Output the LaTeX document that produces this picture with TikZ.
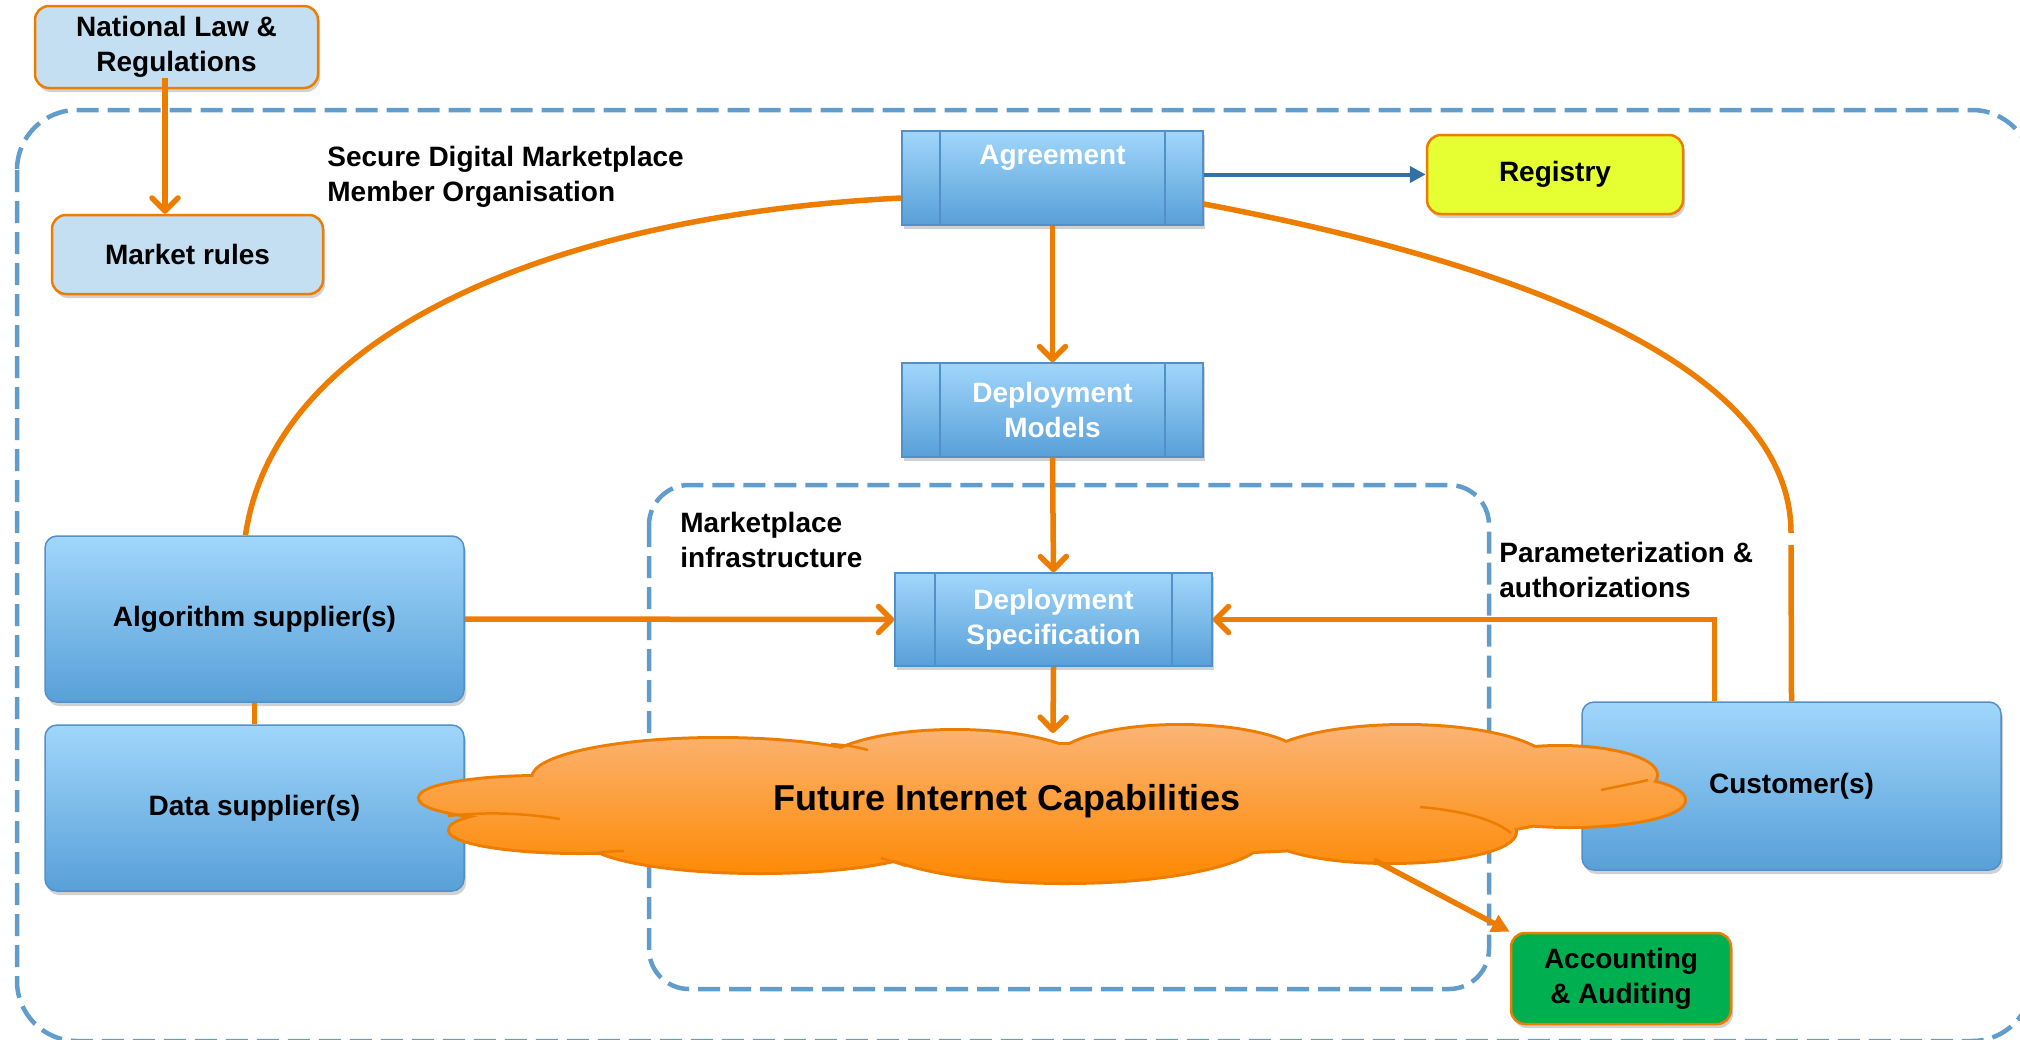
\documentclass[tikz,border=0pt]{standalone}
\usepackage{fontspec}
\setmainfont{Liberation Sans}
\usetikzlibrary{arrows.meta,calc,shadows}

\definecolor{orline}{RGB}{237,125,0}
\definecolor{lawblue}{RGB}{197,223,242}
\definecolor{boxtop}{RGB}{160,214,251}
\definecolor{boxbot}{RGB}{88,160,216}
\definecolor{boxedge}{RGB}{84,144,200}
\definecolor{dashblue}{RGB}{96,156,204}
\definecolor{regblue}{RGB}{52,112,168}
\definecolor{regyellow}{RGB}{230,255,50}
\definecolor{accgreen}{RGB}{0,176,80}
\definecolor{cloudtop}{RGB}{251,180,116}
\definecolor{cloudbot}{RGB}{254,136,0}

\newcommand{\lblfont}{\bfseries\fontsize{28}{35}\selectfont}
\newcommand{\bigfont}{\bfseries\fontsize{36}{43}\selectfont}
\newcommand{\puffs}{540/798/120/21, 580/830/130/22, 718/778/185/39, 955/770/135/39, 1180/762/125/36, 1405/766/145/40, 1560/775/96/28, 1570/800/114/26, 1390/832/125/30, 1065/835/200/47, 760/838/175/34, 1050/800/540/55}

\tikzset{every picture/.style={line width=0.75pt}}
\tikzset{
  shadowed/.style={drop shadow={shadow xshift=2pt,shadow yshift=-4pt,opacity=0.3,fill=black!60}},
  lawbox/.style={rectangle,rounded corners=14pt,draw=orline,line width=2.5pt,fill=lawblue,align=center,font=\lblfont,shadowed},
  procbox/.style={rectangle,draw=boxedge,line width=1.5pt,top color=boxtop,bottom color=boxbot,align=center,font=\lblfont,text=white,shadowed,
    path picture={\draw[boxedge,line width=1.5pt] ([xshift=#1]path picture bounding box.north west) -- ([xshift=#1]path picture bounding box.south west);
      \draw[boxedge,line width=1.5pt] ([xshift=-#1]path picture bounding box.north east) -- ([xshift=-#1]path picture bounding box.south east);}},
  procbox/.default=38pt,
  rolebox/.style={rectangle,rounded corners=12pt,draw=boxedge,line width=1.5pt,top color=boxtop,bottom color=boxbot,align=center,font=\lblfont,minimum width=419pt,shadowed},
  dashbox/.style={draw=dashblue,line width=4.5pt,dash pattern=on 22pt off 9pt},
  oline/.style={draw=orline,line width=5.5pt},
  oarrow/.style={oline,-{Straight Barb[length=13pt,width=26pt,round]}},
  cloudedge/.style={draw=orline,line width=2.5pt}
}

\begin{document}
\begin{tikzpicture}[x=1pt,y=1pt,yscale=-1,xscale=1]
\useasboundingbox (0,0) rectangle (2020,1039);

%Rounded Rect (member organisation)
\draw[dashbox,rounded corners=60pt] (17,110) rectangle (2032,1041);
%Rounded Rect (marketplace infrastructure)
\draw[dashbox,rounded corners=40pt] (649,485) rectangle (1489,989);

%Shape: Rounded Rect
\draw (176.5,47) node[lawbox,minimum width=283pt,minimum height=82pt] (natlaw) {National Law \&\\Regulations};
\draw (187.5,254.5) node[lawbox,minimum width=271pt,minimum height=79pt] (mrules) {Market rules};
\draw (1555,174.5) node[lawbox,fill=regyellow,minimum width=256pt,minimum height=79pt] (reg) {Registry};
\draw (1621,978.5) node[lawbox,fill=accgreen,minimum width=220pt,minimum height=91pt] (acct) {Accounting\\\& Auditing};

%Shape: Predefined Process
\draw (1052.5,178) node[procbox,minimum width=301pt,minimum height=94pt] (agree) {Agreement\\\strut};
\draw (1052.5,410) node[procbox,minimum width=301pt,minimum height=94pt] (depmod) {Deployment\\Models};
\draw (1053.5,619.5) node[procbox=40pt,minimum width=317pt,minimum height=93pt] (depspec) {Deployment\\Specification};

%Shape: Rounded Rect
\draw (254.5,619) node[rolebox,minimum height=166pt] (algo) {Algorithm supplier(s)};
\draw (254.5,808) node[rolebox,minimum height=166pt] (data) {Data supplier(s)};
\draw (1791.5,786) node[rolebox,minimum height=168pt] (cust) {Customer(s)};

%Shape: Cloud
\draw[orline,line width=6pt] foreach \cx/\cy/\rx/\ry in \puffs {(\cx,\cy) ellipse [x radius=\rx,y radius=\ry]};
\shade[top color=cloudtop,bottom color=cloudbot] foreach \cx/\cy/\rx/\ry in \puffs {(\cx,\cy) ellipse [x radius=\rx,y radius=\ry]};
\draw[cloudedge] (448,816) .. controls (490,811) and (530,814) .. (560,819);
\draw[cloudedge] (831,744) .. controls (845,745) and (858,747) .. (868,750);
\draw[cloudedge] (1601,790) .. controls (1620,786) and (1636,783) .. (1648,780);
\draw[cloudedge] (1420,807) .. controls (1465,811) and (1495,820) .. (1511,833);
\draw[cloudedge] (881,858) .. controls (890,861) and (898,863) .. (906,866);
\draw[cloudedge] (595,853) .. controls (605,852) and (615,851) .. (624,851);
\coordinate (cloudtop) at (1053,733);
\coordinate (cloudse) at (1374,860);
% Text Node
\draw (1007,801) node[font=\bigfont] (cloud) {Future Internet Capabilities};

% Text Node
\draw (327,146) node[anchor=north west,inner sep=0pt,align=left,font=\lblfont] (sdmo) {Secure Digital Marketplace\\Member Organisation};
% Text Node
\draw (680,512) node[anchor=north west,inner sep=0pt,align=left,font=\lblfont] (mpinfra) {Marketplace\\infrastructure};
% Text Node
\draw (1499,542) node[anchor=north west,inner sep=0pt,align=left,font=\lblfont] (paramauth) {Parameterization \&\\authorizations};

%Straight Lines
\coordinate (lawout) at ($(natlaw.south)+(-11.5,-11)$);
\draw[oarrow] (lawout) -- (lawout |- mrules.north);
\draw[oarrow] (agree.south) -- (depmod.north);
\draw[oarrow] (depmod.south) -- (depspec.north);
\draw[oarrow] (depspec.south) -- (cloudtop);
\draw[oarrow] (algo.east) -- (depspec.west);
\draw[oarrow] ($(cust.north west)+(133,0)$) |- (depspec.east);
\draw[oline] (algo.south) -- (data.north);
\draw[draw=regblue,line width=4pt,-{Triangle[length=16pt,width=16pt]}] (agree.east |- reg.west) -- (reg.west);
\draw[oline,-{Triangle[length=18pt,width=18pt]}] (cloudse) -- (acct.north west);

%Curve Lines
\coordinate (gapa) at (1791,533);
\coordinate (gapb) at (1791,545);
\draw[oline] ($(algo.north)+(-9,0)$) .. controls (275,330) and (560,215) .. ($(agree.west)+(0,20)$);
\draw[oline] ($(agree.east)+(0,26)$) .. controls (1500,260) and (1791,360) .. (gapa) (gapb) -- (cust.north);

\end{tikzpicture}
\end{document}
